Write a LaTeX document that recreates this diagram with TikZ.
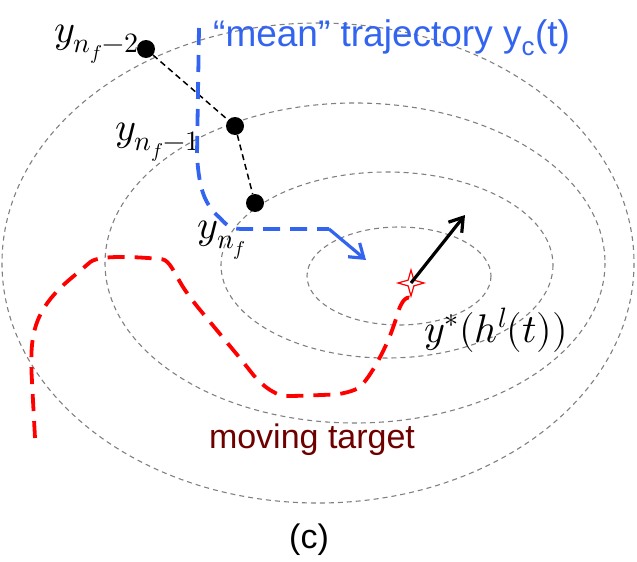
\documentclass[tikz,border=0pt]{standalone}
\usepackage{fontspec}
\setmainfont{Liberation Sans}
\usepackage{unicode-math}
\setmathfont{Latin Modern Math}
\usetikzlibrary{arrows.meta,shapes.geometric}
\definecolor{meanblue}{RGB}{50,100,240}
\definecolor{tgtred}{RGB}{110,0,0}
\begin{document}
\begin{tikzpicture}[x=1pt,y=-1pt,
  contour/.style={draw=gray,line width=1.1pt,dash pattern=on 5pt off 4pt},
  dot/.style={circle,fill=black,inner sep=0pt,minimum size=18pt},
  lbl/.style={inner sep=0pt,font=\fontsize{40}{44}\selectfont},
  link/.style={draw=black,line width=1.5pt,dash pattern=on 6pt off 4pt},
  meanpath/.style={draw=meanblue,line width=3.8pt,dash pattern=on 17pt off 10pt},
  tgtpath/.style={draw=red,line width=3.8pt,dash pattern=on 17pt off 10pt,rounded corners=12pt}]
\useasboundingbox (0,0) rectangle (637,562);
\draw[contour] (318,263) ellipse [x radius=316,y radius=240];
\draw[contour] (355,263) ellipse [x radius=250,y radius=160];
\draw[contour] (387,265) ellipse [x radius=166,y radius=93];
\draw[contour] (399,276) ellipse [x radius=92,y radius=49];
\node[dot] (d1) at (146,49) {};
\node[dot] (d2) at (235,126) {};
\node[dot] (d3) at (255,203) {};
\draw[link] (d1) -- (d2) -- (d3);
\node[lbl,anchor=east] (l1) at (139,44) {$y_{n_f-2}$};
\node[lbl,anchor=east] (l2) at (200,142) {$y_{n_f-1}$};
\node[lbl] (l3) at (222,240) {$y_{n_f}$};
\node[star,star points=4,star point ratio=3.2,draw=red,fill=white,line width=1.2pt,inner sep=0pt,minimum size=26pt] (st) at (411,283) {};
\coordinate (ah) at (465,215);
\draw[line width=3.2pt,-{Straight Barb[length=13pt,width=17pt]}] (st.center) -- (ah);
\coordinate (b0) at (199,28);
\coordinate (b1) at (329,229);
\coordinate (bh) at (366,260);
\draw[meanpath] (b0) -- (197,155) .. controls (199,190) and (205,205) .. (220,218) .. controls (228,227) and (232,229) .. (244,229) -- (b1);
\draw[draw=meanblue,line width=3.2pt,-{Straight Barb[length=13pt,width=18pt]}] (b1) -- (bh);
\coordinate (r0) at (35,438);
\draw[tgtpath] (r0) -- (31,363) .. controls (33,320) and (45,300) .. (81,270) .. controls (95,258) and (110,256) .. (150,258) .. controls (170,260) and (175,275) .. (191,299) -- (244,363) .. controls (265,390) and (280,396) .. (297,396) -- (346,394) .. controls (365,385) and (380,360) .. (394,326) .. controls (400,305) and (405,295) .. (st.south);
\node[lbl,anchor=west] (ys) at (424,330) {$y^*(h^l(t))$};
\node[inner sep=0pt,anchor=west,text=meanblue,font=\fontsize{37}{40}\selectfont] (mt) at (213,38) {“mean” trajectory y\textsubscript{c}(t)};
\node[inner sep=0pt,text=tgtred,font=\fontsize{34}{40}\selectfont] (mv) at (312,440) {moving target};
\node[inner sep=0pt,font=\fontsize{34}{40}\selectfont] (cap) at (309,540) {(c)};
\end{tikzpicture}
\end{document}
